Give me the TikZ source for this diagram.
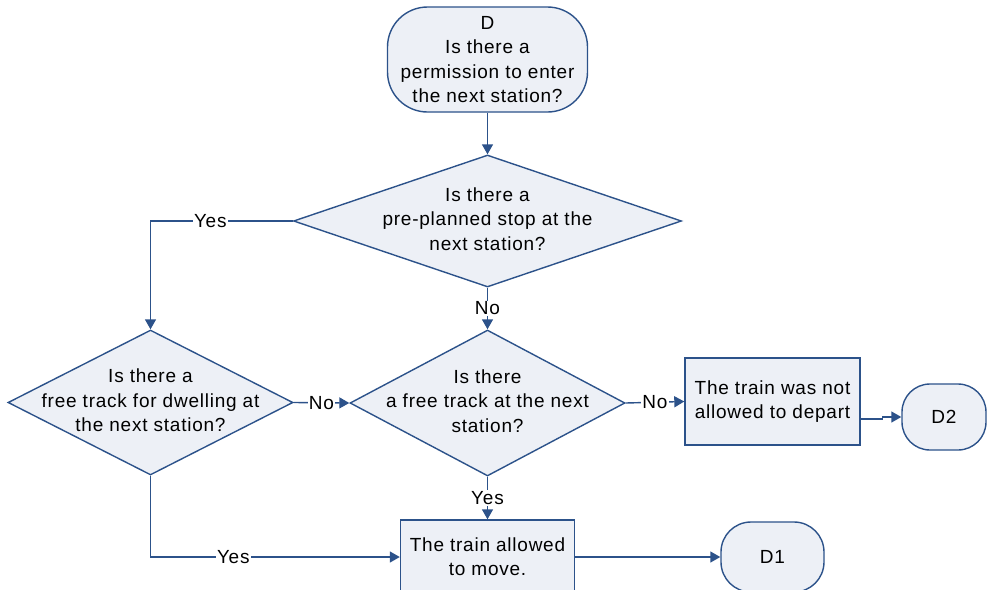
\documentclass[tikz,border=0pt]{standalone}
\usepackage{fontspec}
\setmainfont[LetterSpace=4]{Liberation Sans}
\usetikzlibrary{arrows.meta,shapes.geometric}
\definecolor{lc}{RGB}{44,82,138}
\definecolor{fc}{RGB}{237,240,246}
\newcommand{\dtx}[1]{\makebox[0pt]{\begin{tabular}{@{}c@{}}#1\end{tabular}}}
\begin{document}
\begin{tikzpicture}[x=0.5pt,y=-0.5pt,
  every node/.style={font=\fontsize{9.5}{12.2}\selectfont},
  base/.style={draw=lc,fill=fc,line width=0.7pt},
  term/.style={base,rectangle,inner sep=0pt,align=center},
  dec/.style={base,shape=diamond,aspect=1,inner sep=0pt},
  proc/.style={base,rectangle,inner sep=0pt,align=center},
  arr/.style={draw=lc,line width=0.7pt,-{Triangle[length=5pt,width=5.5pt]}},
  lbl/.style={fill=white,inner sep=0.6pt,text=black}]
\useasboundingbox (0,0) rectangle (987,590);
\node[term,rounded corners=20pt,minimum width=100pt,minimum height=52.5pt] (start) at (487.5,59.5)
  {D\\Is there a\\permission to enter\\the next station?};
\node[dec,minimum width=194pt,minimum height=66pt] (q1) at (487.5,221)
  {\dtx{Is there a\\pre-planned stop at the\\next station?}};
\node[dec,minimum width=142.5pt,minimum height=72.5pt] (q3) at (150.5,402.5)
  {\dtx{Is there a\\free track for dwelling at\\the next station?}};
\node[dec,minimum width=137.5pt,minimum height=73pt] (q2) at (487.5,403)
  {\dtx{Is there\\a free track at the next\\station?}};
\node[proc,minimum width=87.5pt,minimum height=43.5pt] (b1) at (772.5,401.5)
  {The train was not\\allowed to depart};
\node[term,rounded corners=14pt,minimum width=42pt,minimum height=33pt] (d2) at (944,417) {D2};
\node[proc,minimum width=87pt,minimum height=37pt] (b2) at (487.5,557)
  {The train allowed\\to move.};
\node[term,rounded corners=15pt,minimum width=51.5pt,minimum height=35pt] (d1) at (772.5,557) {D1};
\draw[arr] (start.south) -- (q1.north);
\draw[arr] (q1.west) -| node[lbl,pos=0.29]{Yes} (q3.north);
\draw[arr] (q1.south) -- node[lbl]{No} (q2.north);
\draw[arr] (q3.east) -- node[lbl]{No} (q2.west);
\draw[arr] (q2.east) -- node[lbl]{No} (b1.west);
\draw[arr] (q2.south) -- node[lbl]{Yes} (b2.north);
\draw[arr] (q3.south) |- node[lbl,pos=0.666]{Yes} (b2.west);
\draw[arr] ([yshift=-8.75pt]b1.east) -- ++(22,0) |- (d2.west);
\draw[arr] (b2.east) -- (d1.west);
\end{tikzpicture}
\end{document}
